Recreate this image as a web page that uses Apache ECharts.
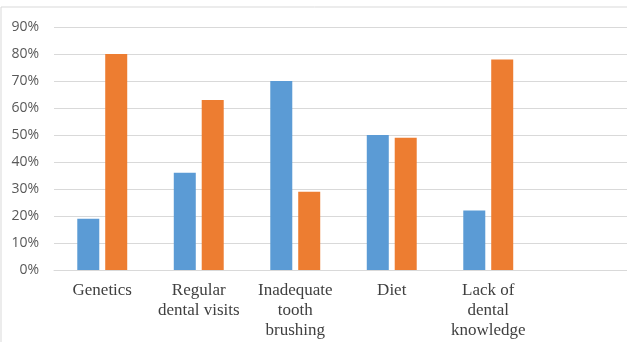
<!DOCTYPE html>
<html>
<head>
<meta charset="utf-8">
<script src="https://cdn.jsdelivr.net/npm/echarts@6/dist/echarts.min.js"></script>
<style>
  html, body { margin: 0; padding: 0; background: #fff; }
  #chart { width: 627px; height: 342px; }
</style>
</head>
<body>
<div id="chart"></div>
<script>
var categories = ['Genetics', 'Regular\ndental visits', 'Inadequate\ntooth\nbrushing', 'Diet', 'Lack of\ndental\nknowledge', ''];
var seriesA = [19, 36, 70, 50, 22, null];
var seriesB = [80, 63, 29, 49, 78, null];
var yTicks = { min: 0, max: 90, step: 10 };

var myChart = echarts.init(document.getElementById('chart'));

var option = {
    animation: false,
    graphic: [
        {
            type: 'rect',
            shape: { x: 1, y: 7, width: 700, height: 400 },
            style: { fill: 'none', stroke: '#d9d9d9', lineWidth: 1 },
            silent: true
        }
    ],
    grid: {
        left: 54,
        top: 27,
        width: 579,
        bottom: 72,
        outerBoundsMode: 'none'
    },
    xAxis: {
        type: 'category',
        data: categories,
        axisLine: { lineStyle: { color: '#d9d9d9', width: 1 } },
        axisTick: { show: false },
        axisLabel: {
            interval: 0,
            margin: 11,
            fontFamily: 'Liberation Serif',
            fontSize: 17,
            lineHeight: 20,
            color: '#404040'
        }
    },
    yAxis: {
        type: 'value',
        min: yTicks.min,
        max: yTicks.max,
        interval: yTicks.step,
        axisLine: { show: false },
        axisTick: { show: false },
        splitLine: { lineStyle: { color: '#d9d9d9', width: 1 } },
        axisLabel: {
            formatter: '{value}%',
            margin: 15,
            fontFamily: 'Open Sans',
            fontSize: 14,
            color: '#595959'
        }
    },
    series: [
        {
            name: 'A',
            type: 'bar',
            data: seriesA,
            barWidth: 22,
            barGap: '27%',
            itemStyle: { color: '#5b9bd5' }
        },
        {
            name: 'B',
            type: 'bar',
            data: seriesB,
            barWidth: 22,
            barGap: '27%',
            itemStyle: { color: '#ed7d31' }
        }
    ]
};
myChart.setOption(option);
</script>
</body>
</html>
